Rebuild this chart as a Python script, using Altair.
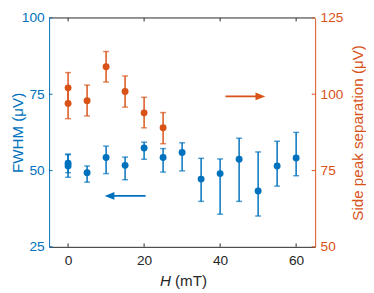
import altair as alt
import pandas as pd

# ---- data ----
H_fwhm = [0, 0, 5, 10, 15, 20, 25, 30, 35, 40, 45, 50, 55, 60]
fwhm = [52.4, 51.5, 49.3, 54.3, 51.7, 57.4, 54.3, 55.9, 47.2, 49.0, 53.7, 43.3, 51.5, 54.1]
fwhm_lo = [49.3, 47.8, 46.2, 49.0, 47.0, 53.7, 49.5, 49.9, 39.9, 35.7, 39.9, 35.1, 44.9, 48.3]
fwhm_hi = [55.4, 55.2, 51.5, 58.0, 54.4, 59.3, 57.2, 59.1, 54.0, 53.8, 60.6, 56.1, 59.6, 62.5]

H_sep = [0, 0, 5, 10, 15, 20, 25]
sep = [102.1, 97.0, 97.9, 109.0, 100.9, 93.9, 89.0]
sep_lo = [97.1, 92.0, 92.9, 104.0, 95.8, 89.0, 83.8]
sep_hi = [107.1, 102.0, 103.0, 114.0, 106.0, 99.0, 94.0]

x_ticks = [0, 20, 40, 60]
yl_ticks = [25, 50, 75, 100]
yr_ticks = [50, 75, 100, 125]

# annotation arrows (data units of the left axis)
arrow_blue_x = [20.4]
arrow_blue_x2 = [10.9]
arrow_blue_y = [41.7]
arrow_orange_x = [41.4]
arrow_orange_x2 = [50.6]
arrow_orange_y = [74.3]

BLUE = "#0072BD"
ORANGE = "#D95319"
DARK = "#262626"
FONT = "Liberation Sans"
W, HT = 272, 234
TICK = 3.5

xscale = alt.Scale(domain=[-5, 65], nice=False, zero=False)
ylscale = alt.Scale(domain=[25, 100], nice=False, zero=False)
yrscale = alt.Scale(domain=[50, 125], nice=False, zero=False)

x_axis = alt.Axis(values=x_ticks, title="", labelFontSize=14, labelFont=FONT,
                  labelColor=DARK, domainColor=DARK, domainWidth=1, ticks=False,
                  labelPadding=7, grid=False)
yl_axis = alt.Axis(values=yl_ticks, title="FWHM (μV)", orient="left",
                   labelFontSize=14, labelFont=FONT, labelColor=BLUE,
                   titleFontSize=15.5, titleFont=FONT, titleColor=BLUE,
                   titleFontWeight="normal", domainColor=BLUE, domainWidth=1,
                   ticks=False, labelPadding=5, titlePadding=-4, grid=False)
yr_axis = alt.Axis(values=yr_ticks, title="Side peak separation (μV)", orient="right",
                   labelFontSize=14, labelFont=FONT, labelColor=ORANGE,
                   titleFontSize=15.5, titleFont=FONT, titleColor=ORANGE,
                   titleFontWeight="normal", titleAngle=270, titleBaseline="top",
                   domainColor=ORANGE, domainWidth=1, ticks=False, labelPadding=5,
                   titlePadding=8, grid=False)

df_b = pd.DataFrame({"H": H_fwhm, "v": fwhm, "lo": fwhm_lo, "hi": fwhm_hi})
df_o = pd.DataFrame({"H": H_sep, "v": sep, "lo": sep_lo, "hi": sep_hi})

# ---- left (FWHM) layer ----
bb = alt.Chart(df_b)
blue_bars = bb.mark_rule(color=BLUE, strokeWidth=1.5).encode(
    x=alt.X("H:Q", scale=xscale, axis=x_axis),
    y=alt.Y("lo:Q", scale=ylscale, axis=yl_axis),
    y2="hi:Q",
)
blue_cap_lo = bb.mark_tick(color=BLUE, orient="horizontal", size=6, thickness=1.5).encode(
    x=alt.X("H:Q", scale=xscale), y=alt.Y("lo:Q", scale=ylscale))
blue_cap_hi = bb.mark_tick(color=BLUE, orient="horizontal", size=6, thickness=1.5).encode(
    x=alt.X("H:Q", scale=xscale), y=alt.Y("hi:Q", scale=ylscale))
blue_pts = bb.mark_circle(color=BLUE, size=50, opacity=1).encode(
    x=alt.X("H:Q", scale=xscale), y=alt.Y("v:Q", scale=ylscale))

df_ab = pd.DataFrame({"ax": arrow_blue_x, "ax2": arrow_blue_x2, "ay": arrow_blue_y})
df_ao = pd.DataFrame({"ax": arrow_orange_x, "ax2": arrow_orange_x2, "ay": arrow_orange_y})
ab_line = alt.Chart(df_ab).mark_rule(color=BLUE, strokeWidth=2).encode(
    x=alt.X("ax:Q", scale=xscale), x2="ax2:Q", y=alt.Y("ay:Q", scale=ylscale))
ab_head = alt.Chart(df_ab).mark_point(shape="M-1,0L1,-0.8L1,0.8Z", filled=True, size=100,
                                      color=BLUE, opacity=1, strokeWidth=0).encode(
    x=alt.X("ax2:Q", scale=xscale), y=alt.Y("ay:Q", scale=ylscale))
ao_line = alt.Chart(df_ao).mark_rule(color=ORANGE, strokeWidth=2).encode(
    x=alt.X("ax:Q", scale=xscale), x2="ax2:Q", y=alt.Y("ay:Q", scale=ylscale))
ao_head = alt.Chart(df_ao).mark_point(shape="M1,0L-1,-0.8L-1,0.8Z", filled=True, size=100,
                                      color=ORANGE, opacity=1, strokeWidth=0).encode(
    x=alt.X("ax2:Q", scale=xscale), y=alt.Y("ay:Q", scale=ylscale))

# inward ticks and top frame
df_xt = pd.DataFrame({"t": x_ticks})
xt_bottom = alt.Chart(df_xt).mark_rule(color=DARK, strokeWidth=1).encode(
    x=alt.X("t:Q", scale=xscale), y=alt.value(HT), y2=alt.value(HT - TICK))
xt_top = alt.Chart(df_xt).mark_rule(color=DARK, strokeWidth=1).encode(
    x=alt.X("t:Q", scale=xscale), y=alt.value(0), y2=alt.value(TICK))
frame_top = alt.Chart(pd.DataFrame({"a": [0]})).mark_rule(color=DARK, strokeWidth=1).encode(
    x=alt.value(0), x2=alt.value(W), y=alt.value(0))
df_ylt = pd.DataFrame({"t": yl_ticks})
ylt = alt.Chart(df_ylt).mark_rule(color=BLUE, strokeWidth=1).encode(
    y=alt.Y("t:Q", scale=ylscale), x=alt.value(0), x2=alt.value(TICK))

# x axis title with italic H
df_lab = pd.DataFrame({"a": [0]})
xt_H = alt.Chart(df_lab).mark_text(text="H", font=FONT, fontSize=15.5, fontStyle="italic",
                                   color=DARK, align="right", baseline="middle").encode(
    x=alt.value(124.5), y=alt.value(269))
xt_unit = alt.Chart(df_lab).mark_text(text="(mT)", font=FONT, fontSize=15.5,
                                      color=DARK, align="left", baseline="middle").encode(
    x=alt.value(128.8), y=alt.value(269))

left = alt.layer(blue_bars, blue_cap_lo, blue_cap_hi, blue_pts, ab_line, ab_head,
                 ao_line, ao_head, xt_bottom, xt_top, frame_top, ylt, xt_H, xt_unit)

# ---- right (side peak separation) layer ----
ob = alt.Chart(df_o)
orange_bars = ob.mark_rule(color=ORANGE, strokeWidth=1.5).encode(
    x=alt.X("H:Q", scale=xscale),
    y=alt.Y("lo:Q", scale=yrscale, axis=yr_axis),
    y2="hi:Q",
)
orange_cap_lo = ob.mark_tick(color=ORANGE, orient="horizontal", size=6, thickness=1.5).encode(
    x=alt.X("H:Q", scale=xscale), y=alt.Y("lo:Q", scale=yrscale))
orange_cap_hi = ob.mark_tick(color=ORANGE, orient="horizontal", size=6, thickness=1.5).encode(
    x=alt.X("H:Q", scale=xscale), y=alt.Y("hi:Q", scale=yrscale))
orange_pts = ob.mark_circle(color=ORANGE, size=50, opacity=1).encode(
    x=alt.X("H:Q", scale=xscale), y=alt.Y("v:Q", scale=yrscale))
df_yrt = pd.DataFrame({"t": yr_ticks})
yrt = alt.Chart(df_yrt).mark_rule(color=ORANGE, strokeWidth=1).encode(
    y=alt.Y("t:Q", scale=yrscale), x=alt.value(W), x2=alt.value(W - TICK))

right = alt.layer(orange_bars, orange_cap_lo, orange_cap_hi, orange_pts, yrt)

chart = alt.layer(left, right).resolve_scale(y="independent").properties(
    width=W, height=HT, autosize="none",
    padding={"left": 42, "top": 7, "right": 52, "bottom": 44},
).configure_view(stroke=None)

chart.save("out.html", embed_options={"renderer": "svg", "actions": False})
